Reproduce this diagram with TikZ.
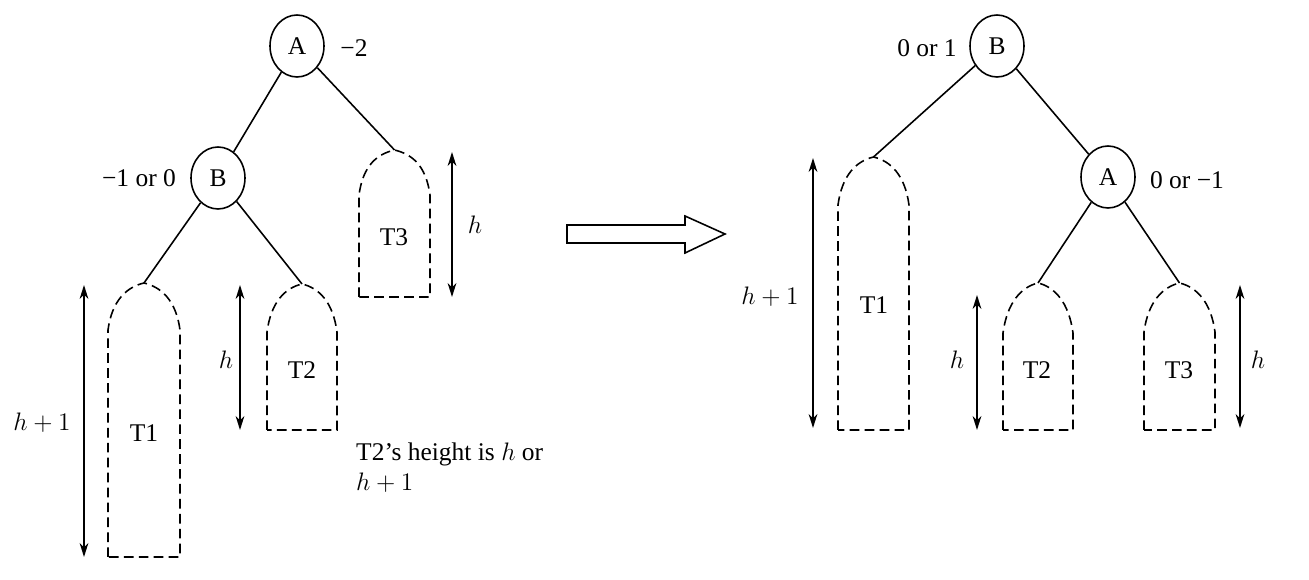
\documentclass[tikz,border=0pt]{standalone}
\usepackage{fontspec}
\setmainfont{Liberation Serif}
\usetikzlibrary{arrows.meta,shapes.geometric}

\newcommand{\subtree}[6]{%
  \coordinate (#1) at ({(#2+#3)/2},#4);
  \draw[treeline] (#2,#6) -- (#2,#5) .. controls +(4,-30) and +(-17,4) .. (#1)
    .. controls +(17,4) and +(-4,-30) .. (#3,#5) -- (#3,#6) -- cycle;
}

\begin{document}
\begin{tikzpicture}[x=0.02cm, y=-0.02cm,
  every node/.style={font=\fontsize{14.5}{17}\selectfont},
  vertex/.style={ellipse, draw, line width=0.9pt, minimum width=1.08cm,
                 minimum height=1.24cm, inner sep=0pt},
  treeline/.style={dashed, line width=0.9pt, dash pattern=on 5.5pt off 3pt},
  edge/.style={line width=0.9pt},
  dimarr/.style={{Stealth[length=8pt,width=5pt]}-{Stealth[length=8pt,width=5pt]}, line width=0.9pt},
  bigarrow/.style={line width=0.9pt, line join=miter}
]
  \useasboundingbox (0,0) rectangle (1309,580);

  \node[vertex] (lA) at (297,46) {A};
  \node at (354,48) {−2};
  \node[vertex] (lB) at (218,178) {B};
  \node at (139,178) {−1 or 0};

  \subtree{lt1}{108}{180}{283}{330}{557}
  \subtree{lt2}{267}{337}{284}{332}{430}
  \subtree{lt3}{359}{430}{150}{195}{297}
  \node at (144,433) {T1};
  \node at (302,370) {T2};
  \node at (394,237) {T3};

  \draw[edge] (lA) -- (lB);
  \draw[edge] (lA) -- (lt3);
  \draw[edge] (lB) -- (lt1);
  \draw[edge] (lB) -- (lt2);

  \coordinate (lh1a) at (84,285);  \coordinate (lh1b) at (84,557);
  \coordinate (lh2a) at (240,285); \coordinate (lh2b) at (240,430);
  \coordinate (lh3a) at (452,152); \coordinate (lh3b) at (452,297);
  \draw[dimarr] (lh1a) -- (lh1b);
  \draw[dimarr] (lh2a) -- (lh2b);
  \draw[dimarr] (lh3a) -- (lh3b);
  \node at (42,423) {$h+1$};
  \node at (226,360) {$h$};
  \node at (475,225) {$h$};

  \node[anchor=west, align=left] (note) at (350,468)
        {T2’s height is $h$ or\\$h+1$};

  \draw[bigarrow] (567,225) -- (685,225) -- (685,216) -- (725,234)
        -- (685,253) -- (685,243) -- (567,243) -- cycle;

  \node[vertex] (rB) at (997,46) {B};
  \node at (927,48) {0 or 1};
  \node[vertex] (rA) at (1108,177) {A};
  \node at (1187,180) {0 or −1};

  \subtree{rt1}{838}{909}{157}{205}{430}
  \subtree{rt2}{1003}{1073}{283}{333}{430}
  \subtree{rt3}{1144}{1215}{283}{332}{430}
  \node at (874,305) {T1};
  \node at (1037,370) {T2};
  \node at (1179,370) {T3};

  \draw[edge] (rB) -- (rt1);
  \draw[edge] (rB) -- (rA);
  \draw[edge] (rA) -- (rt2);
  \draw[edge] (rA) -- (rt3);

  \coordinate (rh1a) at (813,158);  \coordinate (rh1b) at (813,428);
  \coordinate (rh2a) at (977,295);  \coordinate (rh2b) at (977,430);
  \coordinate (rh3a) at (1240,285); \coordinate (rh3b) at (1240,428);
  \draw[dimarr] (rh1a) -- (rh1b);
  \draw[dimarr] (rh2a) -- (rh2b);
  \draw[dimarr] (rh3a) -- (rh3b);
  \node at (770,297) {$h+1$};
  \node at (957,360) {$h$};
  \node at (1258,360) {$h$};
\end{tikzpicture}
\end{document}
